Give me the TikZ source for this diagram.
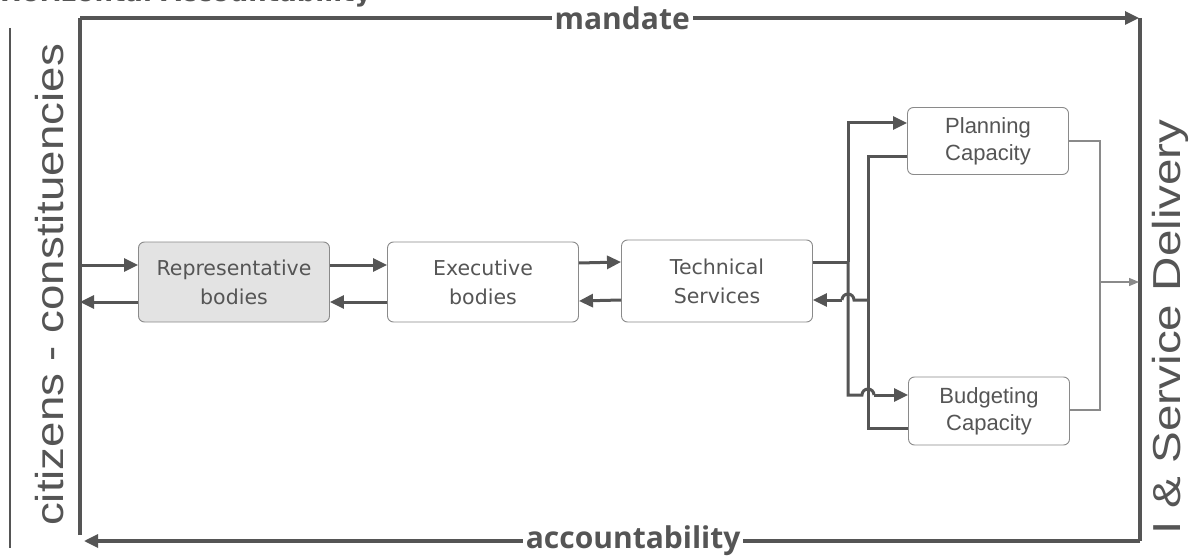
\documentclass[tikz,border=0pt]{standalone}
\usepackage{fontspec}
\setmainfont{Liberation Sans}
\newfontfamily\dv{DejaVu Sans}
\newfontfamily\os{Open Sans}
\usetikzlibrary{arrows.meta,calc}
\definecolor{ln}{HTML}{555555}
\definecolor{bx}{HTML}{8A8A8A}
\definecolor{tx}{HTML}{555555}
\tikzset{
  frameline/.style={draw=ln, line width=3.2pt},
  conn/.style={draw=ln, line width=3pt},
  thinline/.style={draw=bx, line width=1.3pt},
  arr/.style={-{Triangle[length=14pt,width=13pt]}},
  tarr/.style={-{Triangle[length=10pt,width=8pt]}},
  box/.style={draw=bx, line width=0.9pt, rounded corners=6pt, fill=white, align=center, text=tx, inner sep=0pt},
  bigbox/.style={box, minimum width=191pt, minimum height=80pt, font=\dv\fontsize{20.5}{29}\selectfont},
  capbox/.style={box, minimum width=161pt, minimum height=67pt, font=\fontsize{22}{27}\selectfont},
  lbl/.style={fill=white, inner sep=3pt, text=tx, font=\os\bfseries\fontsize{30}{32}\selectfont},
  side/.style={rotate=90, anchor=base, text=tx, inner sep=0pt, font=\fontsize{39}{41}\selectfont}
}
\begin{document}
\begin{tikzpicture}[x=1pt,y=-1pt]
\useasboundingbox (0,0) rectangle (1191,556);
\fill[white] (0,0) rectangle (1191,556);
% clipped heading
\begin{scope}
\clip (0,0) rectangle (1191,556);
\node[anchor=base west, inner sep=0pt, text=tx, font=\dv\bfseries\fontsize{26}{28}\selectfont] (head) at (0,2) {Horizontal Accountability};
\end{scope}
% side labels
\draw[draw=ln, line width=1.6pt] (10,28) coordinate (lb1) -- (10,548) coordinate (lb2);
\node[side] (cit) at (63,285) {\scalebox{1.17}[1]{citizens - constituencies}};
\node[side] (isd) at (1180,327) {\scalebox{1.22}[1]{I \& Service Delivery}};
% frame
\coordinate (tl) at (80,18);
\coordinate (tr) at (1140,18);
\coordinate (te) at (1139,18);
\coordinate (br) at (1140,541);
\coordinate (bl) at (80,535);
\coordinate (be) at (84,541);
\draw[frameline] (bl) -- (tl);
\draw[frameline, arr] (tl) -- node[lbl, pos=0.512] (mand) {mandate} (te);
\draw[frameline] (tr) -- (br);
\draw[frameline, arr] (br) -- node[lbl, pos=0.48, inner ysep=1pt] (acc) {accountability} (be);
% boxes
\node[bigbox, fill=gray!22] (rep) at (234,282) {Representative\\bodies};
\node[bigbox] (exe) at (483,282) {Executive\\bodies};
\node[bigbox, minimum height=82pt] (tec) at (717,281) {Technical\\Services};
\node[capbox] (pla) at (988,141) {Planning\\Capacity};
\node[capbox, minimum height=68pt] (bud) at (989,411) {Budgeting\\Capacity};
% left chain
\coordinate (fin) at (80,265);
\coordinate (fout) at (80,302);
\draw[conn, arr] (fin) -- (rep.west |- fin);
\draw[conn, arr] (rep.west |- fout) -- (fout);
\draw[conn, arr] ($(rep.east)+(0,-17)$) -- ($(exe.west)+(0,-17)$);
\draw[conn, arr] ($(exe.west)+(0,20)$) -- ($(rep.east)+(0,20)$);
\draw[conn, arr] ($(exe.east)+(0,-19)$) -- ($(tec.west)+(0,-19)$);
\draw[conn, arr] ($(tec.west)+(0,19)$) -- ($(exe.east)+(0,19)$);
% split to capacities
\coordinate (sx) at (848,262);
\coordinate (s1) at (848,123);
\coordinate (s2) at (848,395);
\coordinate (h2) at (862,395);
\draw[conn] (tec.east |- sx) -- (sx);
\draw[conn, arr] (sx) -- (s1) -- (pla.west |- s1);
\draw[conn] (sx) -- (s2) -- (h2) arc[start angle=180, end angle=0, radius=6pt] coordinate (h2e);
\draw[conn, arr] (h2e) -- (bud.west |- s2);
% feedback
\coordinate (r1) at (868,157);
\coordinate (r2) at (868,428);
\coordinate (rm) at (868,300);
\coordinate (h1) at (854,300);
\draw[conn] (pla.west |- r1) -- (r1) -- (r2) -- (bud.west |- r2);
\draw[conn] (rm) -- (h1) arc[start angle=0, end angle=180, radius=6pt] coordinate (h1e);
\draw[conn, arr] (h1e) -- (tec.east |- rm);
% right side
\coordinate (q1) at (1100,141);
\coordinate (q2) at (1100,410);
\coordinate (qm) at (1100,282);
\coordinate (qe) at (1139,282);
\draw[thinline] (pla.east |- q1) -- (q1) -- (q2) -- (bud.east |- q2);
\draw[thinline, tarr] (qm) -- (qe);
\end{tikzpicture}
\end{document}
